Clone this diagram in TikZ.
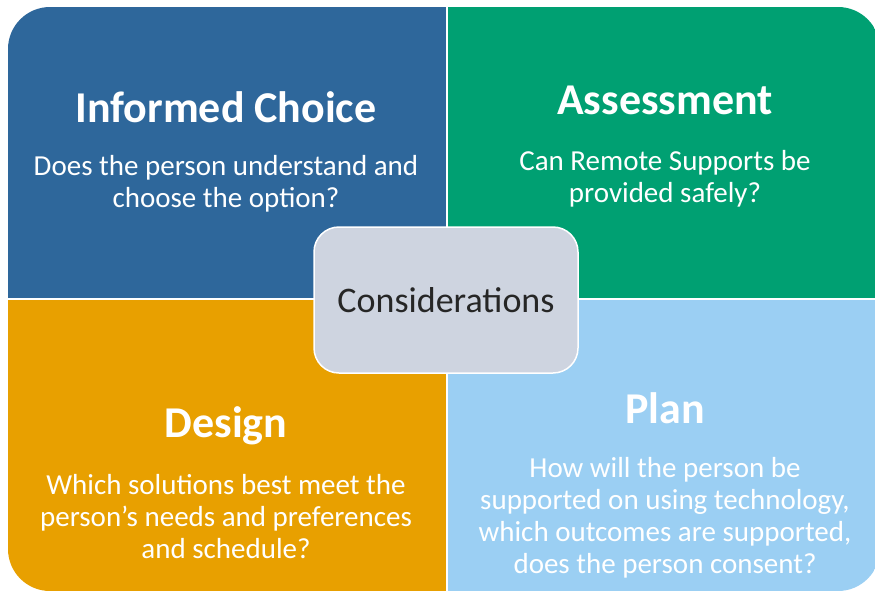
\documentclass[tikz,border=0pt]{standalone}
\usepackage{fontspec}
\setmainfont{Carlito}
\usepackage{xcolor}
\usepackage{tikz}
\definecolor{choiceblue}{HTML}{2E679B}
\definecolor{assessgreen}{HTML}{00A072}
\definecolor{designorange}{HTML}{E8A000}
\definecolor{planblue}{HTML}{9BCFF3}
\definecolor{centergrey}{HTML}{CED4E0}
\definecolor{darktext}{HTML}{262626}
\tikzset{
  title/.style={text=white, font=\fontsize{44}{50}\selectfont\bfseries},
  body/.style={text=white, align=center, font=\fontsize{29}{32}\selectfont},
  centerbox/.style={fill=centergrey, draw=white, line width=1.5pt, rounded corners=25pt,
    minimum width=264pt, minimum height=146pt, text=darktext, font=\fontsize{36}{40}\selectfont}
}
\begin{document}
\begin{tikzpicture}[x=1pt, y=-1pt]
  \useasboundingbox (0,0) rectangle (875,592);
  % Quadrants
  \begin{scope}
    \clip[rounded corners=42pt] (8,7) rectangle (880,591);
    \fill[choiceblue] (8,7) rectangle (446,298);
    \fill[assessgreen] (448,7) rectangle (880,298);
    \fill[designorange] (8,300) rectangle (446,591);
    \fill[planblue] (448,300) rectangle (880,591);
  \end{scope}

  % Informed Choice
  \node[title] (choice) at (226,107) {Informed Choice};
  \node[body] (choicetxt) at (226,184) {Does the person understand and\\choose the option?};

  % Assessment
  \node[title] (assess) at (665,100) {Assessment};
  \node[body] (assesstxt) at (665,179) {Can Remote Supports be\\provided safely?};

  % Design
  \node[title] (design) at (226,426) {Design};
  \node[body] (designtxt) at (226,517) {Which solutions best meet the\\person’s needs and preferences\\and schedule?};

  % Plan
  \node[title] (plan) at (665,408) {Plan};
  \node[body] (plantxt) at (665,518) {How will the person be\\supported on using technology,\\which outcomes are supported,\\does the person consent?};

  % Center
  \node[centerbox] (consider) at (446,300) {Considerations};
\end{tikzpicture}
\end{document}
